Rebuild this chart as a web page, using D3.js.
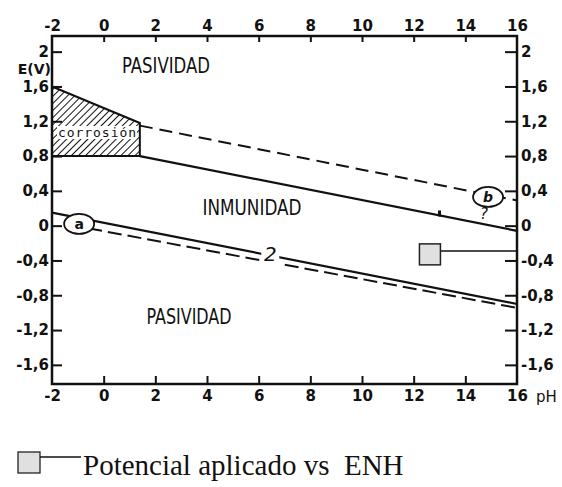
<!DOCTYPE html>
<html>
<head>
<meta charset="utf-8">
<script src="https://cdn.jsdelivr.net/npm/d3@7"></script>
<style>
  body { margin: 0; background: #fff; }
  svg { display: block; }
  .tick text { font-family: "DejaVu Sans", sans-serif; font-weight: bold; font-size: 15px; fill: #111; }
  .tick line { stroke: #111; stroke-width: 2; }
</style>
</head>
<body>
<svg class="chart"></svg>
<script>
// pH axis and potential axis (V vs ENH)
var phTicks = [-2, 0, 2, 4, 6, 8, 10, 12, 14, 16];
var eTicks = [2, 1.6, 1.2, 0.8, 0.4, 0, -0.4, -0.8, -1.2, -1.6];

// region names
var regionNames = ["PASIVIDAD", "INMUNIDAD", "PASIVIDAD"];

// hatched corrosion zone [pH, E]
var corrosionZone = [[-2, 1.6], [1.4, 1.18], [1.4, 0.8], [-2, 0.8]];

// boundary between immunity and upper passivity
var boundaryUpper = [[1.4, 0.8], [16, -0.06]];
// line b (oxygen), dashed
var lineB = [[1.4, 1.15], [16, 0.29]];
// line a (hydrogen), solid + dashed twin
var lineA = [[-2, 0.15], [16, -0.9]];
var lineA2 = [[-0.6, -0.03], [16, -0.945]];

// applied potential point [pH, E] and its lead line level
var applied = [12.63, -0.33];
var appliedLead = [[13.05, -0.29], [16, -0.29]];

function show() {
    'use strict';
    var W = 562, H = 487;

    var svg = d3.select(".chart")
        .attr("width", W)
        .attr("height", H);

    var x = d3.scaleLinear().domain([-2, 16]).range([52, 517]);
    var y = d3.scaleLinear().domain([-1.82, 2.18]).range([384, 36]);
    var fmt = function(d) { return String(d).replace(".", ","); };

    var line = d3.line()
        .x(function(d) { return x(d[0]); })
        .y(function(d) { return y(d[1]); });

    var defs = svg.append("defs");
    defs.append("pattern")
        .attr("id", "hatch")
        .attr("patternUnits", "userSpaceOnUse")
        .attr("width", 5).attr("height", 5)
        .attr("patternTransform", "rotate(45)")
        .append("line")
        .attr("x1", 0).attr("y1", 0).attr("x2", 0).attr("y2", 5)
        .attr("stroke", "#111").attr("stroke-width", 2);

    // corrosion zone
    svg.append("path")
        .datum(corrosionZone)
        .attr("d", function(d) { return line(d) + "Z"; })
        .attr("fill", "url(#hatch)")
        .attr("stroke", "#111")
        .attr("stroke-width", 2);

    svg.append("rect")
        .attr("x", 57).attr("y", 126).attr("width", 80).attr("height", 13)
        .attr("fill", "#fff");
    svg.append("text")
        .attr("x", 58).attr("y", 137)
        .attr("font-family", "DejaVu Sans Mono, monospace")
        .attr("font-size", 13)
        .attr("textLength", 78)
        .attr("fill", "#111")
        .text("corrosión");

    // lines
    svg.append("path").datum(boundaryUpper).attr("d", line)
        .attr("fill", "none").attr("stroke", "#111").attr("stroke-width", 2.2);
    svg.append("path").datum(lineB).attr("d", line)
        .attr("fill", "none").attr("stroke", "#111").attr("stroke-width", 2)
        .attr("stroke-dasharray", "13,7");
    svg.append("path").datum(lineA).attr("d", line)
        .attr("fill", "none").attr("stroke", "#111").attr("stroke-width", 2.2);
    svg.append("path").datum(lineA2).attr("d", line)
        .attr("fill", "none").attr("stroke", "#111").attr("stroke-width", 2)
        .attr("stroke-dasharray", "14,6");

    // small mark on the boundary line
    svg.append("rect")
        .attr("x", x(13) - 1.5).attr("y", y(0.117) - 5)
        .attr("width", 3).attr("height", 6).attr("fill", "#111");

    // "2" on line a
    svg.append("rect")
        .attr("x", x(6.1)).attr("y", y(-0.2))
        .attr("width", 18).attr("height", 22)
        .attr("fill", "#fff");
    svg.append("text")
        .attr("x", x(6.45)).attr("y", y(-0.41))
        .attr("text-anchor", "middle")
        .attr("font-family", "DejaVu Sans, sans-serif")
        .attr("font-style", "italic")
        .attr("font-size", 20)
        .attr("fill", "#111")
        .text("2");

    // circled labels a and b
    var circled = [{ph: -0.95, e: 0.02, t: "a"}, {ph: 14.88, e: 0.33, t: "b"}];
    var cg = svg.selectAll(".circled").data(circled).enter().append("g")
        .attr("transform", function(d) { return "translate(" + x(d.ph) + "," + y(d.e) + ")"; });
    cg.append("ellipse")
        .attr("rx", 15).attr("ry", 10)
        .attr("fill", "#fff").attr("stroke", "#111").attr("stroke-width", 1.8);
    cg.append("text")
        .attr("text-anchor", "middle").attr("dy", "0.35em")
        .attr("font-family", "DejaVu Sans, sans-serif")
        .attr("font-weight", "bold")
        .attr("font-style", function(d) { return d.t === "b" ? "italic" : "normal"; })
        .attr("font-size", 14)
        .attr("fill", "#111")
        .text(function(d) { return d.t; });
    svg.append("text")
        .attr("x", x(14.72)).attr("y", y(0.08))
        .attr("text-anchor", "middle")
        .attr("font-family", "DejaVu Sans, sans-serif")
        .attr("font-style", "italic")
        .attr("font-size", 15)
        .attr("fill", "#111")
        .text("?");

    // region labels
    var regionPos = [[166, 73, 88], [252, 215, 99], [189, 324, 85]];
    svg.selectAll(".region").data(regionNames).enter().append("text")
        .attr("x", function(d, i) { return regionPos[i][0] - regionPos[i][2] / 2; })
        .attr("y", function(d, i) { return regionPos[i][1]; })
        .attr("textLength", function(d, i) { return regionPos[i][2]; })
        .attr("lengthAdjust", "spacingAndGlyphs")
        .attr("font-family", "Liberation Sans Narrow, DejaVu Sans Condensed, sans-serif")
        .attr("font-size", 22)
        .attr("fill", "#111")
        .text(function(d) { return d; });

    // applied potential square and lead
    svg.append("path").datum(appliedLead).attr("d", line)
        .attr("fill", "none").attr("stroke", "#111").attr("stroke-width", 1.5);
    svg.append("rect")
        .attr("x", x(applied[0]) - 10.5).attr("y", y(applied[1]) - 10.5)
        .attr("width", 21).attr("height", 21)
        .attr("fill", "#e0e0e0").attr("stroke", "#222").attr("stroke-width", 1.5);

    // frame
    svg.append("rect")
        .attr("x", x(-2)).attr("y", y(2.18))
        .attr("width", x(16) - x(-2)).attr("height", y(-1.82) - y(2.18))
        .attr("fill", "none").attr("stroke", "#111").attr("stroke-width", 2.5);

    // axes with inward ticks
    var inner = function(v) { return v !== -2 && v !== 16; };
    svg.append("g").attr("transform", "translate(0," + y(-1.82) + ")")
        .call(d3.axisBottom(x).tickValues(phTicks).tickSize(-8).tickPadding(6).tickFormat(fmt))
        .call(function(g) { g.select(".domain").remove(); })
        .selectAll(".tick line").attr("display", function(d) { return inner(d) ? null : "none"; });
    svg.append("g").attr("transform", "translate(0," + y(2.18) + ")")
        .call(d3.axisTop(x).tickValues(phTicks).tickSize(-6).tickPadding(5).tickFormat(fmt))
        .call(function(g) { g.select(".domain").remove(); })
        .selectAll(".tick line").attr("display", function(d) { return inner(d) ? null : "none"; });
    svg.append("g").attr("transform", "translate(" + x(-2) + ",0)")
        .call(d3.axisLeft(y).tickValues(eTicks).tickSize(-10).tickPadding(3).tickFormat(fmt))
        .call(function(g) { g.select(".domain").remove(); });
    svg.append("g").attr("transform", "translate(" + x(16) + ",0)")
        .call(d3.axisRight(y).tickValues(eTicks).tickSize(-12).tickPadding(4).tickFormat(fmt))
        .call(function(g) { g.select(".domain").remove(); });

    // axis titles
    svg.append("text")
        .attr("x", 51).attr("y", 74).attr("text-anchor", "end")
        .attr("font-family", "DejaVu Sans, sans-serif").attr("font-size", 14)
        .attr("font-weight", "bold")
        .attr("fill", "#111").text("E(V)");
    svg.append("text")
        .attr("x", 536).attr("y", 402)
        .attr("font-family", "DejaVu Sans, sans-serif").attr("font-size", 15)
        .attr("fill", "#111").text("pH");

    // legend
    var lg = svg.append("g");
    lg.append("rect").attr("x", 18).attr("y", 452).attr("width", 22).attr("height", 21)
        .attr("fill", "#e0e0e0").attr("stroke", "#222").attr("stroke-width", 1.3);
    lg.append("line").attr("x1", 40).attr("x2", 81).attr("y1", 457).attr("y2", 457)
        .attr("stroke", "#111").attr("stroke-width", 1.5);
    lg.append("text")
        .attr("x", 83).attr("y", 475)
        .attr("font-family", "Liberation Serif, Times New Roman, serif")
        .attr("font-size", 29)
        .attr("fill", "#111")
        .style("white-space", "pre")
        .text("Potencial aplicado vs  ENH");
}
show();
</script>
</body>
</html>
